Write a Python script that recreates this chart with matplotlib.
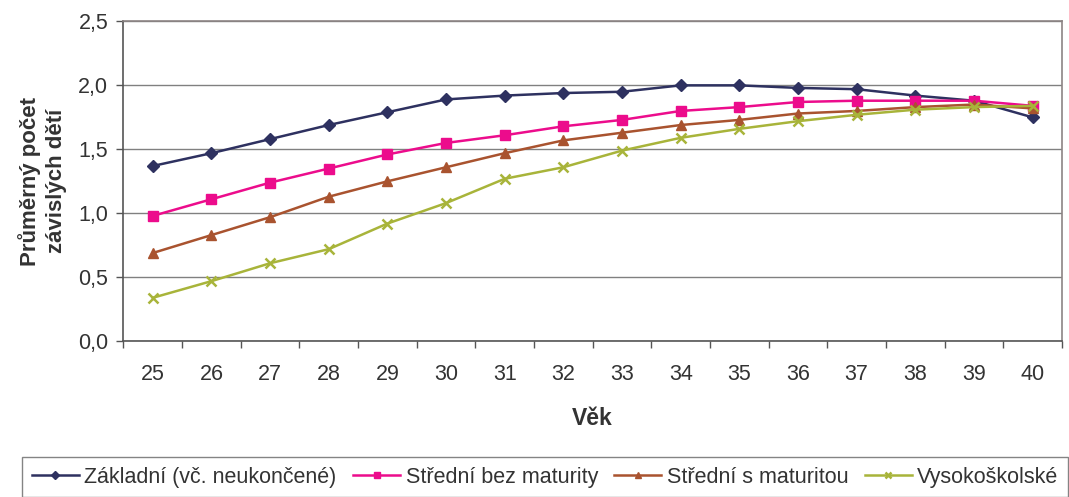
import matplotlib.pyplot as plt
import numpy as np
from matplotlib.ticker import FixedLocator, FuncFormatter

plt.rcParams['font.family'] = ['Liberation Sans', 'DejaVu Sans']

vek = list(range(25, 41))
zakladni = [1.37, 1.47, 1.58, 1.69, 1.79, 1.89, 1.92, 1.94, 1.95, 2.00, 2.00, 1.98, 1.97, 1.92, 1.88, 1.75]
stredni_bez = [0.98, 1.11, 1.24, 1.35, 1.46, 1.55, 1.61, 1.68, 1.73, 1.80, 1.83, 1.87, 1.88, 1.88, 1.88, 1.84]
stredni_s = [0.69, 0.83, 0.97, 1.13, 1.25, 1.36, 1.47, 1.57, 1.63, 1.69, 1.73, 1.78, 1.80, 1.83, 1.85, 1.82]
vysokoskolske = [0.34, 0.47, 0.61, 0.72, 0.92, 1.08, 1.27, 1.36, 1.49, 1.59, 1.66, 1.72, 1.77, 1.81, 1.83, 1.84]

nazvy = ['Základní (vč. neukončené)', 'Střední bez maturity', 'Střední s maturitou', 'Vysokoškolské']
barvy = ['#2e3160', '#ec0c8c', '#a9532f', '#a8b43a']
znacky = ['D', 's', '^', 'x']

fig = plt.figure(figsize=(10.69, 4.97), dpi=100)
ax = fig.add_axes([0.1155, 0.3133, 0.8779, 0.6437])

x = np.arange(len(vek))
for data, name, c, m in zip([zakladni, stredni_bez, stredni_s, vysokoskolske], nazvy, barvy, znacky):
    ms = 6 if m == 'D' else 7
    mew = 1.8 if m == 'x' else 1
    ax.plot(x, data, color=c, marker=m, markersize=ms, markeredgewidth=mew,
            linewidth=1.8, label=name)

ax.set_xlim(-0.5, len(vek) - 0.5)
ax.set_ylim(0, 2.5)
ax.set_yticks(np.arange(0, 2.51, 0.5))
ax.yaxis.set_major_formatter(FuncFormatter(lambda v, p: f'{v:.1f}'.replace('.', ',')))
ax.set_xticks(x)
ax.set_xticklabels([str(v) for v in vek])
ax.xaxis.set_minor_locator(FixedLocator(np.arange(-0.5, len(vek), 1.0)))
ax.tick_params(axis='x', which='major', length=0, pad=16, labelsize=15.5, colors='#333333')
ax.tick_params(axis='x', which='minor', length=5, width=1, color='#555555')
ax.tick_params(axis='y', length=5, width=1, color='#555555', labelsize=15.5, labelcolor='#333333', pad=6)
ax.grid(axis='y', color='#808080', linewidth=1)
ax.set_axisbelow(True)

for s in ['left', 'bottom']:
    ax.spines[s].set_color('#555555')
    ax.spines[s].set_linewidth(1.2)
for s in ['top', 'right']:
    ax.spines[s].set_color('#8c8484')
    ax.spines[s].set_linewidth(1.2)

ax.set_xlabel('Věk', fontsize=16.5, fontweight='bold', labelpad=16, color='#333333')
ax.set_ylabel('Průměrný počet\nzávislých dětí', fontsize=16, fontweight='bold', labelpad=8,
              color='#333333', linespacing=1.3)

leg = fig.legend(loc='upper left', bbox_to_anchor=(22 / 1069, 1 - 457 / 497), ncol=4, fontsize=15.5,
                 frameon=True, fancybox=False, edgecolor='#666666', handlelength=2.2,
                 handletextpad=0.25, columnspacing=0.75, borderpad=0.45, markerscale=0.7,
                 borderaxespad=0)
leg.get_frame().set_linewidth(1)
for t in leg.get_texts():
    t.set_color('#333333')

fig.savefig('out.png', dpi=100)
